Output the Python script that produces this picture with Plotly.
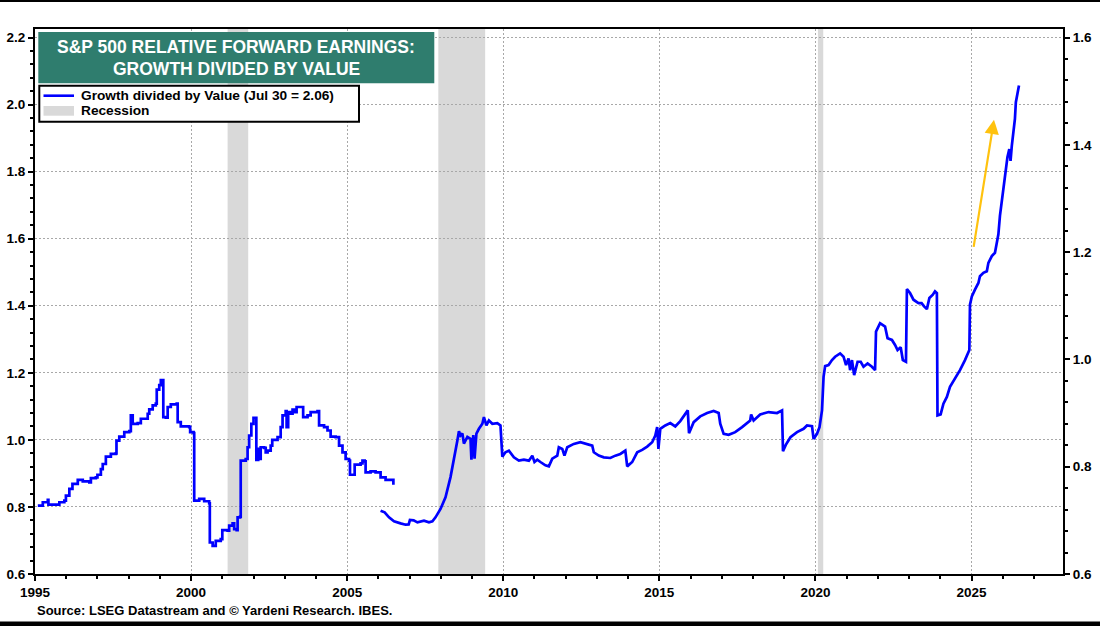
import plotly.graph_objects as go

# ---------------- data (decimal year positions as plotted) ----------------
seg_a_years = [1995.09, 1995.25, 1995.41, 1995.43, 1995.67, 1995.78, 1995.94, 1995.99, 1996.10, 1996.20,
               1996.37, 1996.53, 1996.74, 1996.79, 1996.95, 1997.00, 1997.11, 1997.17, 1997.27, 1997.43,
               1997.59, 1997.61, 1997.70, 1997.86, 1998.02, 1998.07, 1998.13, 1998.29, 1998.39, 1998.61,
               1998.66, 1998.77, 1998.87, 1998.90, 1998.98, 1999.03, 1999.08, 1999.11, 1999.19, 1999.25,
               1999.35, 1999.54, 1999.57, 1999.67, 1999.94, 1999.97, 2000.08, 2000.10, 2000.26, 2000.42,
               2000.58, 2000.60, 2000.69, 2000.79, 2000.95, 2001.00, 2001.17, 2001.22, 2001.33, 2001.38,
               2001.46, 2001.49, 2001.57, 2001.59, 2001.75, 2001.81, 2001.86, 2001.93, 2002.00, 2002.07,
               2002.09, 2002.15, 2002.18, 2002.23, 2002.34, 2002.39, 2002.45, 2002.55, 2002.60, 2002.77,
               2002.87, 2002.93, 2003.03, 2003.06, 2003.11, 2003.19, 2003.25, 2003.30, 2003.38, 2003.57,
               2003.59, 2003.73, 2003.83, 2004.05, 2004.10, 2004.26, 2004.37, 2004.47, 2004.63, 2004.74,
               2004.85, 2004.95, 2005.06, 2005.09, 2005.20, 2005.24, 2005.43, 2005.49, 2005.56, 2005.59,
               2005.75, 2005.91, 2006.07, 2006.23, 2006.48]
seg_a_values = [0.804, 0.814, 0.821, 0.807, 0.807, 0.814, 0.819, 0.834, 0.854, 0.869,
                0.881, 0.876, 0.873, 0.886, 0.888, 0.896, 0.913, 0.928, 0.950, 0.958,
                0.960, 0.998, 1.010, 1.023, 1.026, 1.073, 1.048, 1.050, 1.063, 1.078,
                1.091, 1.103, 1.108, 1.150, 1.163, 1.178, 1.178, 1.068, 1.066, 1.098,
                1.106, 1.108, 1.053, 1.040, 1.038, 1.023, 1.020, 0.819, 0.824, 0.817,
                0.811, 0.694, 0.684, 0.699, 0.704, 0.731, 0.729, 0.744, 0.751, 0.734,
                0.731, 0.769, 0.771, 0.938, 0.943, 0.978, 1.013, 1.048, 1.066, 1.066,
                0.940, 0.973, 0.943, 0.978, 0.976, 0.963, 0.968, 0.983, 1.000, 1.008,
                1.038, 1.073, 1.086, 1.038, 1.083, 1.078, 1.090, 1.083, 1.098, 1.098,
                1.068, 1.073, 1.083, 1.086, 1.043, 1.038, 1.028, 1.010, 1.008, 0.983,
                0.963, 0.943, 0.938, 0.896, 0.896, 0.926, 0.930, 0.938, 0.936, 0.903,
                0.906, 0.903, 0.888, 0.881, 0.866]

seg_b_years = [2006.07, 2006.20, 2006.34, 2006.50, 2006.71, 2006.87, 2006.97, 2007.01, 2007.13, 2007.25,
               2007.46, 2007.62, 2007.73, 2007.83, 2007.99, 2008.15, 2008.31, 2008.42, 2008.53, 2008.58,
               2008.63, 2008.69, 2008.74, 2008.85, 2008.95, 2008.98, 2009.04, 2009.08, 2009.14, 2009.22,
               2009.33, 2009.38, 2009.46, 2009.54, 2009.65, 2009.81, 2009.91, 2009.97, 2010.07, 2010.18,
               2010.34, 2010.50, 2010.66, 2010.82, 2010.93, 2011.00, 2011.09, 2011.19, 2011.35, 2011.46,
               2011.57, 2011.73, 2011.78, 2011.89, 2011.96, 2012.05, 2012.26, 2012.47, 2012.69, 2012.85,
               2012.90, 2013.06, 2013.22, 2013.43, 2013.59, 2013.75, 2013.91, 2013.97, 2014.13, 2014.29,
               2014.45, 2014.61, 2014.77, 2014.87, 2014.93, 2014.97, 2015.03, 2015.19, 2015.35, 2015.51,
               2015.67, 2015.83, 2015.91, 2015.95, 2016.10, 2016.31, 2016.53, 2016.74, 2016.90, 2016.95,
               2017.06, 2017.22, 2017.43, 2017.65, 2017.91, 2017.94, 2018.02, 2018.23, 2018.50, 2018.77,
               2018.93, 2018.96, 2019.05, 2019.20, 2019.41, 2019.62, 2019.73, 2019.89, 2019.94, 2020.05,
               2020.13, 2020.21, 2020.26, 2020.31, 2020.42, 2020.53, 2020.63, 2020.79, 2020.90, 2020.98,
               2021.06, 2021.11, 2021.17, 2021.24, 2021.35, 2021.45, 2021.54, 2021.67, 2021.81, 2021.91,
               2021.94, 2022.07, 2022.23, 2022.31, 2022.45, 2022.55, 2022.63, 2022.73, 2022.80, 2022.90,
               2022.93, 2023.03, 2023.14, 2023.30, 2023.40, 2023.48, 2023.57, 2023.65, 2023.76, 2023.83,
               2023.89, 2023.91, 2024.01, 2024.10, 2024.21, 2024.31, 2024.47, 2024.63, 2024.79, 2024.93,
               2024.95, 2025.01, 2025.11, 2025.22, 2025.27, 2025.38, 2025.49, 2025.54, 2025.65, 2025.75,
               2025.81, 2025.86, 2025.91, 2025.97, 2026.04, 2026.10, 2026.15, 2026.21, 2026.25, 2026.29,
               2026.34, 2026.39, 2026.42, 2026.47, 2026.52]
seg_b_values = [0.789, 0.784, 0.769, 0.757, 0.751, 0.747, 0.748, 0.761, 0.760, 0.754,
                0.759, 0.754, 0.757, 0.769, 0.794, 0.829, 0.889, 0.939, 0.998, 1.026,
                1.013, 1.019, 0.989, 1.009, 1.003, 0.941, 1.014, 0.944, 1.019, 1.033,
                1.048, 1.068, 1.043, 1.058, 1.048, 1.050, 1.043, 0.950, 0.963, 0.968,
                0.948, 0.938, 0.941, 0.938, 0.953, 0.934, 0.941, 0.934, 0.924, 0.921,
                0.944, 0.953, 0.978, 0.973, 0.953, 0.978, 0.988, 0.993, 0.988, 0.983,
                0.963, 0.953, 0.948, 0.946, 0.953, 0.958, 0.968, 0.921, 0.934, 0.963,
                0.970, 0.980, 0.993, 1.013, 1.038, 0.973, 1.033, 1.043, 1.050, 1.040,
                1.056, 1.078, 1.088, 1.020, 1.053, 1.070, 1.080, 1.086, 1.080, 1.048,
                1.018, 1.015, 1.023, 1.038, 1.058, 1.076, 1.058, 1.076, 1.083, 1.080,
                1.088, 0.966, 0.985, 1.008, 1.023, 1.033, 1.043, 1.041, 1.003, 1.018,
                1.038, 1.088, 1.188, 1.220, 1.223, 1.238, 1.248, 1.258, 1.248, 1.223,
                1.243, 1.208, 1.238, 1.193, 1.233, 1.233, 1.218, 1.228, 1.218, 1.208,
                1.323, 1.348, 1.338, 1.303, 1.298, 1.283, 1.268, 1.276, 1.238, 1.233,
                1.450, 1.438, 1.418, 1.408, 1.408, 1.398, 1.390, 1.423, 1.433, 1.443,
                1.438, 1.073, 1.076, 1.108, 1.128, 1.158, 1.183, 1.208, 1.238, 1.268,
                1.403, 1.428, 1.448, 1.468, 1.488, 1.498, 1.503, 1.528, 1.548, 1.558,
                1.588, 1.613, 1.668, 1.708, 1.758, 1.808, 1.843, 1.867, 1.832, 1.877,
                1.922, 1.957, 2.007, 2.032, 2.057]

recession_start = [2001.17, 2007.92, 2020.08]
recession_end = [2001.83, 2009.42, 2020.25]

arrow_tail = (2025.06, 1.571)
arrow_head = (2025.72, 1.955)

x_tick_start, x_tick_step, x_minor_step = 1995, 5, 1
left_tick_start, left_tick_step, left_minor_step = 0.6, 0.2, 0.04
right_tick_start, right_tick_step, right_minor_step = 0.6, 0.2, 0.04

title_lines = ["S&P 500 RELATIVE FORWARD EARNINGS:", "GROWTH DIVIDED BY VALUE"]
legend_labels = ["Growth divided by Value (Jul 30 = 2.06)", "Recession"]
source_text = "Source: LSEG Datastream and © Yardeni Research. IBES."

# ---------------- layout geometry ----------------
W, H = 1100, 626
ML, MR, MT, MB = 35, 37, 29, 52
PW, PH = W - ML - MR, H - MT - MB


def px(xp):
    return (xp - ML) / PW


def py(yp):
    return (H - MB - yp) / PH


FONT = "Liberation Sans, Arial, sans-serif"
BLUE = "#0000FF"
GRAY = "#D9D9D9"
TEAL = "#2F7D6E"
GOLD = "#FFC20E"
GRID = "#A8A8A8"
GRID_DASH = "1.5px,2.5px"

fig = go.Figure()

fig.add_trace(go.Scatter(x=seg_a_years, y=seg_a_values, mode="lines", line=dict(color=BLUE, width=2.7, shape="hv"),
                         showlegend=False, hoverinfo="x+y"))
fig.add_trace(go.Scatter(x=seg_b_years, y=seg_b_values, mode="lines", line=dict(color=BLUE, width=2.7),
                         showlegend=False, hoverinfo="x+y"))
# carrier for the right-hand axis
fig.add_trace(go.Scatter(x=[x_tick_start], y=[None], yaxis="y2", mode="lines", showlegend=False, hoverinfo="skip"))

shapes = []
for s, e in zip(recession_start, recession_end):
    shapes.append(dict(type="rect", xref="x", yref="paper", x0=s, x1=e, y0=0, y1=1,
                       fillcolor=GRAY, line=dict(width=0), layer="between"))

# title box
shapes.append(dict(type="rect", xref="paper", yref="paper", x0=px(38.3), x1=px(434.3), y0=py(83.3), y1=py(32),
                   fillcolor=TEAL, line=dict(width=0), layer="above"))
# legend box
shapes.append(dict(type="rect", xref="paper", yref="paper", x0=px(39.3), x1=px(359), y0=py(121.7), y1=py(85.7),
                   fillcolor="white", line=dict(color="black", width=2), layer="above"))
shapes.append(dict(type="line", xref="paper", yref="paper", x0=px(43.5), x1=px(74), y0=py(95.7), y1=py(95.7),
                   line=dict(color=BLUE, width=2.6), layer="above"))
shapes.append(dict(type="rect", xref="paper", yref="paper", x0=px(43.5), x1=px(74), y0=py(115.7), y1=py(106),
                   fillcolor=GRAY, line=dict(width=0), layer="above"))
# black bands at the top and bottom of the image
shapes.append(dict(type="rect", xref="paper", yref="paper", x0=px(0), x1=px(W), y0=py(2), y1=py(0),
                   fillcolor="black", line=dict(width=0), layer="above"))
shapes.append(dict(type="rect", xref="paper", yref="paper", x0=px(0), x1=px(W), y0=py(626), y1=py(621.5),
                   fillcolor="black", line=dict(width=0), layer="above"))

annotations = [
    dict(xref="paper", yref="paper", x=px(236.3), y=py(47.2), text=title_lines[0], showarrow=False,
         xanchor="center", yanchor="middle", font=dict(family=FONT, size=17.5, color="white", weight="bold")),
    dict(xref="paper", yref="paper", x=px(236.3), y=py(69), text=title_lines[1], showarrow=False,
         xanchor="center", yanchor="middle", font=dict(family=FONT, size=17.5, color="white", weight="bold")),
    dict(xref="paper", yref="paper", x=px(79), y=py(96), text=legend_labels[0], showarrow=False,
         xanchor="left", yanchor="middle", font=dict(family=FONT, size=13.7, color="black", weight="bold")),
    dict(xref="paper", yref="paper", x=px(79), y=py(110.5), text=legend_labels[1], showarrow=False,
         xanchor="left", yanchor="middle", font=dict(family=FONT, size=13.7, color="black", weight="bold")),
    dict(xref="paper", yref="paper", x=px(35), y=py(610.7), text=source_text, showarrow=False,
         xanchor="left", yanchor="middle", font=dict(family=FONT, size=13, color="black", weight="bold")),
    dict(xref="x", yref="y", axref="x", ayref="y", x=arrow_head[0], y=arrow_head[1],
         ax=arrow_tail[0], ay=arrow_tail[1], text="", showarrow=True,
         arrowhead=2, arrowsize=1.3, arrowwidth=2.2, arrowcolor=GOLD),
]

tickfont = dict(family=FONT, size=13.5, color="black", weight="bold")

common = dict(ticks="outside", ticklen=5, tickwidth=1.5, tickcolor="black",
              showline=True, linewidth=2, linecolor="black", tickfont=tickfont,
              zeroline=False, fixedrange=True, automargin=False)

fig.update_layout(
    width=W, height=H,
    margin=dict(l=ML, r=MR, t=MT, b=MB, pad=0, autoexpand=False),
    paper_bgcolor="white", plot_bgcolor="white",
    showlegend=False,
    shapes=shapes,
    annotations=annotations,
    xaxis=dict(range=[1995, 2027.93], tickmode="linear", tick0=x_tick_start, dtick=x_tick_step,
               mirror=True, showgrid=True, gridcolor=GRID, griddash=GRID_DASH, gridwidth=1,
               minor=dict(tick0=x_tick_start, dtick=x_minor_step, ticks="outside", ticklen=3,
                          tickcolor="black", showgrid=False),
               **common),
    yaxis=dict(range=[0.6, 2.2254], tickmode="linear", tick0=left_tick_start, dtick=left_tick_step,
               tickformat=".1f", showgrid=True, gridcolor=GRID, griddash=GRID_DASH, gridwidth=1,
               minor=dict(tick0=left_tick_start, dtick=left_minor_step, ticks="outside", ticklen=3,
                          tickcolor="black", showgrid=False),
               **common),
    yaxis2=dict(range=[0.6, 1.6159], overlaying="y", side="right", tickmode="linear",
                tick0=right_tick_start, dtick=right_tick_step, tickformat=".1f", showgrid=False,
                minor=dict(tick0=right_tick_start, dtick=right_minor_step, ticks="outside", ticklen=3,
                           tickcolor="black", showgrid=False),
                **common),
)

fig.write_html("out.html", config={"displayModeBar": False},
               post_script="document.body.style.margin='0px';document.body.style.overflow='hidden';")
